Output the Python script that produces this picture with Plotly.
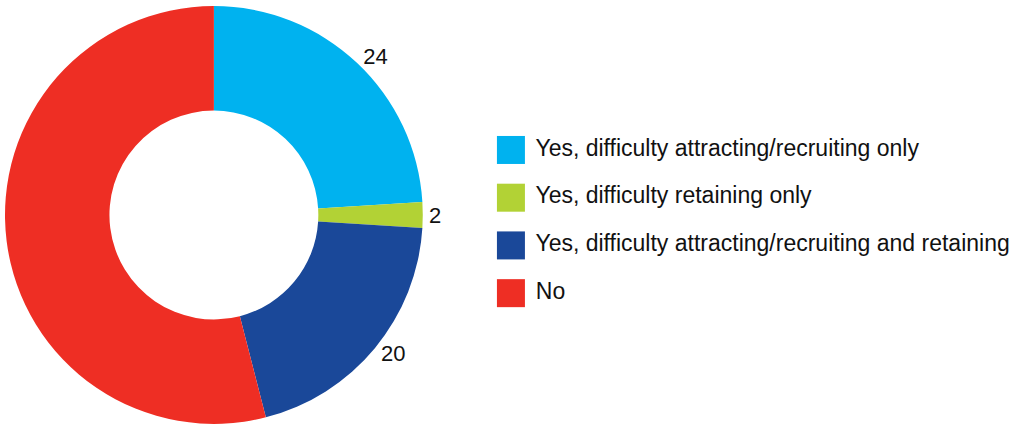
import plotly.graph_objects as go

categories = [
    "Yes, difficulty attracting/recruiting only",
    "Yes, difficulty retaining only",
    "Yes, difficulty attracting/recruiting and retaining",
    "No",
]
values = [24, 2, 20, 54]
slice_labels = ["24", "2", "20", ""]
colors = ["#00b2ef", "#b2d235", "#1a4899", "#ee2e24"]

FONT = "Liberation Sans, Arial, Helvetica, sans-serif"

fig = go.Figure()

fig.add_trace(go.Pie(
    labels=categories,
    values=values,
    text=slice_labels,
    textinfo="text",
    textposition="outside",
    textfont=dict(size=22, color="#111111", family=FONT),
    hole=0.5,
    sort=False,
    direction="clockwise",
    rotation=0,
    marker=dict(colors=colors, line=dict(width=0)),
    domain=dict(x=[0, 0.41], y=[0.0428, 0.9887]),
    showlegend=False,
))

# legend drawn as square markers with labels
legend_rows = list(range(len(categories)))
fig.add_trace(go.Scatter(
    x=[0.05] * len(categories),
    y=legend_rows,
    mode="markers+text",
    marker=dict(symbol="square", size=28, color=colors),
    text=[" " + c for c in categories],
    textposition="middle right",
    textfont=dict(size=23, color="#111111", family=FONT),
    hoverinfo="skip",
    showlegend=False,
    cliponaxis=False,
))

fig.update_layout(
    width=1024,
    height=444,
    margin=dict(l=0, r=0, t=0, b=0),
    paper_bgcolor="white",
    plot_bgcolor="white",
    xaxis=dict(domain=[0.47, 1.0], range=[0, 1], visible=False, fixedrange=True),
    yaxis=dict(domain=[0.286, 0.716], range=[3.5, -0.5], visible=False, fixedrange=True),
)

# page body has a default margin, drop it so the figure sits at the corner
fig.write_html("out.html", config={"displayModeBar": False},
               post_script="document.body.style.margin='0';")
